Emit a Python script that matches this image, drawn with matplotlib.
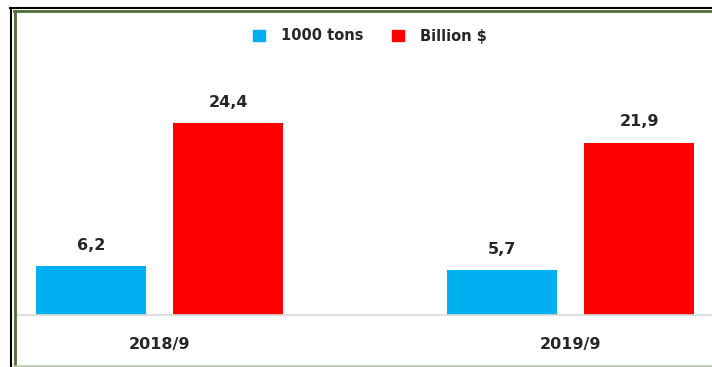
import numpy as np
import matplotlib.pyplot as plt
from matplotlib.patches import Patch
from matplotlib.lines import Line2D

periods = ['2018/9', '2019/9']
tons = [6.2, 5.7]          # 1000 tons
billions = [24.4, 21.9]    # Billion $
series_names = ['1000 tons', 'Billion $']

BLUE = '#00B0F0'
RED = '#FF0000'
TXT = '#262626'

W, H = 712, 367
fig = plt.figure(figsize=(W / 100, H / 100), dpi=100)
plt.rcParams['font.family'] = 'DejaVu Sans'


def fx(px):
    return px / W


def fy(py):
    return 1 - py / H


# plot area in pixel terms
left, right, top, base = 15, 712, 60, 315
ax = fig.add_axes([fx(left), fy(base), fx(right - left), (base - top) / H])

x = np.arange(len(periods))
bw = 0.268
off = 0.1668
b1 = ax.bar(x - off, tons, bw, color=BLUE)
b2 = ax.bar(x + off, billions, bw, color=RED)

for bars, vals in ((b1, tons), (b2, billions)):
    for r, v in zip(bars, vals):
        ax.annotate(f'{v:.1f}'.replace('.', ','),
                    (r.get_x() + r.get_width() / 2, v),
                    xytext=(0, 12), textcoords='offset points',
                    ha='center', va='baseline', fontsize=11.5,
                    fontweight='bold', color=TXT)

ax.set_xlim(-0.3524, 1.3445)
ax.set_ylim(0, (base - top) / 7.85)
ax.set_xticks(x)
ax.set_xticklabels(periods, fontsize=11.5, fontweight='bold', color=TXT)
ax.tick_params(axis='x', length=0, pad=16)
ax.set_yticks([])
for s in ['left', 'right', 'top']:
    ax.spines[s].set_visible(False)
ax.spines['bottom'].set_color('#d9d9d9')
ax.spines['bottom'].set_linewidth(1.2)

handles = [Patch(color=BLUE), Patch(color=RED)]
fig.legend(handles, series_names, loc='center',
           bbox_to_anchor=(fx(370), fy(36)), ncol=2, frameon=False,
           prop={'weight': 'bold', 'size': 10.5},
           handlelength=0.8, handleheight=0.8,
           handletextpad=1.1, columnspacing=2.0, labelcolor=TXT)

# frame lines around the chart
fig.add_artist(Line2D([fx(10), 1], [fy(8), fy(8)], color='black', lw=1.5))
fig.add_artist(Line2D([fx(11), fx(11)], [fy(8), 0], color='black', lw=1.5))
fig.add_artist(Line2D([fx(14), 1], [fy(11), fy(11)], color='#4f6b3a', lw=2.0))
fig.add_artist(Line2D([fx(14.5), fx(14.5)], [fy(11), 0], color='#4f6b3a', lw=2.0))
fig.add_artist(Line2D([fx(14), 1], [fy(366), fy(366)], color='#b5c4a8', lw=1.2))

fig.savefig('out.png', dpi=100)
